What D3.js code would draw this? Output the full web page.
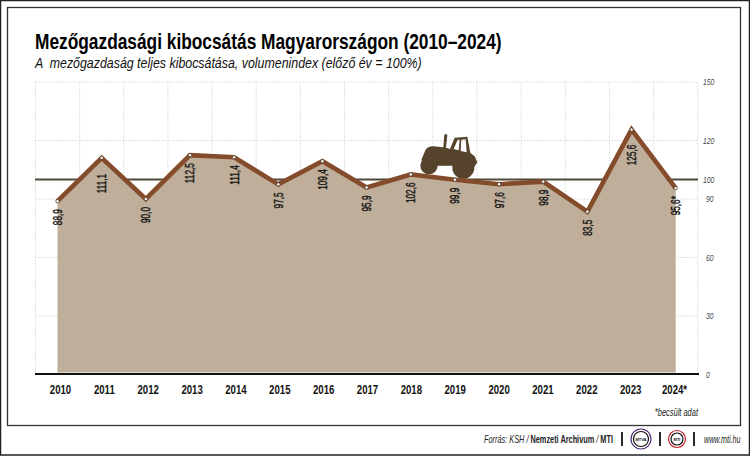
<!DOCTYPE html>
<html><head><meta charset="utf-8">
<script src="https://cdn.jsdelivr.net/npm/d3@7"></script>
<style>
html,body{margin:0;padding:0;background:#fff}
svg{display:block}
text{font-family:"Liberation Sans",Arial,sans-serif;white-space:pre}
</style></head><body><svg id="c" width="750" height="456"></svg>
<script>
const years=[2010,2011,2012,2013,2014,2015,2016,2017,2018,2019,2020,2021,2022,2023,2024];
const values=[88.9,111.1,90.0,112.5,111.4,97.5,109.4,95.9,102.6,99.9,97.6,98.9,83.5,125.6,95.6];
const valueLabels=["88,9","111,1","90,0","112,5","111,4","97,5","109,4","95,9","102,6","99,9","97,6","98,9","83,5","125,6","95,6*"];
const yearLabels=["2010","2011","2012","2013","2014","2015","2016","2017","2018","2019","2020","2021","2022","2023","2024*"];
const yTicks=[0,30,60,90,100,120,150];
const gridValues=[30,60,90,120,150];
const referenceValue=100;
const labelGapLarge={2011:16,2023:15};

const svg=d3.select("#c");
const x=d3.scalePoint().domain(years).range([57.5,675.7]);
const xLab=d3.scalePoint().domain(years).range([60,674]);
const y=d3.scaleLinear().domain([0,150]).range([374.5,82]);
const step=x.step();
const L=35,R=698;

// frame
svg.append("rect").attr("x",.5).attr("y",.5).attr("width",749).attr("height",454.5).attr("fill","#fff").attr("stroke","#222").attr("stroke-width",1.5);
svg.append("rect").attr("x",7.5).attr("y",7.5).attr("width",733).attr("height",418).attr("fill","#fff").attr("stroke","#333").attr("stroke-width",1.3);

// condensed text helper
function cond(sel,px,py,sx,rot){return sel.attr("transform",`translate(${px},${py})${rot?` rotate(${rot})`:""} scale(${sx},1)`);}

// title
cond(svg.append("text"),35,49,.77).attr("font-size",22.5).attr("font-weight","bold").attr("fill","#000").text("Mezőgazdasági kibocsátás Magyarországon (2010–2024)");
cond(svg.append("text"),35,67.5,.80).attr("font-size",15.5).attr("font-style","italic").attr("fill","#111").text("A  mezőgazdaság teljes kibocsátása, volumenindex (előző év = 100%)");

// grid
const grid=svg.append("g").attr("stroke","#e2e1dc").attr("stroke-width",1).attr("stroke-dasharray","2 1");
grid.selectAll("line.h").data(gridValues).join("line").attr("class","h").attr("x1",L).attr("x2",R).attr("y1",d=>y(d)).attr("y2",d=>y(d));
grid.selectAll("line.v").data(d3.range(years.length+1)).join("line").attr("class","v")
  .attr("x1",i=>x(years[0])-step/2+i*step).attr("x2",i=>x(years[0])-step/2+i*step).attr("y1",y(150)).attr("y2",y(0));

// y axis
const ax=svg.append("g").attr("transform",`translate(${R+5},0)`).call(d3.axisRight(y).tickValues(yTicks).tickSize(0).tickPadding(0).tickFormat(d3.format("d")));
ax.select(".domain").remove();
ax.selectAll("text").attr("font-size",8.5).attr("font-style","italic").attr("fill","#444").attr("x",0)
  .attr("transform",d=>`translate(${d==0?3:(d<100?3:0)},0) scale(.8,1)`);

// 100 line
svg.append("line").attr("x1",L).attr("x2",R).attr("y1",y(referenceValue)).attr("y2",y(referenceValue)).attr("stroke","#4f4838").attr("stroke-width",2);

// area
const pts=years.map((d,i)=>({year:d,v:values[i],label:valueLabels[i]}));
svg.append("path").datum(pts).attr("fill","#bfae9a")
  .attr("d",d3.area().x(d=>x(d.year)).y0(y(1)).y1(d=>y(d.v)));

// tractor
const t=svg.append("g").attr("transform","translate(410,125) scale(0.3333)").attr("fill","#55432c");
t.append("path").attr("d","M34 105 L46 76 Q52 64 70 64 L100 67 L103 30 L108 26 L112 30 L108 68 L120 72 L134 38 L172 35 L181 84 L194 94 L202 112 L190 130 L130 122 L85 122 L50 128 Z M143 44 L131 72 L146 76 L149 44 Z M154 44 L152 78 L170 82 L167 43 Z").attr("fill-rule","evenodd");
t.append("circle").attr("cx",57).attr("cy",122).attr("r",26);
t.append("circle").attr("cx",160).attr("cy",128).attr("r",33);

// baseline
svg.append("line").attr("x1",L).attr("x2",R+1).attr("y1",374).attr("y2",374).attr("stroke","#111").attr("stroke-width",2);

// line
svg.append("path").datum(pts).attr("fill","none").attr("stroke","#854c2b").attr("stroke-width",4.6).attr("stroke-linejoin","miter")
  .attr("d",d3.line().x(d=>x(d.year)).y(d=>y(d.v)));
svg.selectAll("circle.pt").data(pts).join("circle").attr("class","pt").attr("cx",d=>x(d.year)).attr("cy",d=>y(d.v)).attr("r",1.7).attr("fill","#fff").attr("stroke","#4a3a2a").attr("stroke-width",.8);

// value labels
svg.selectAll("text.val").data(pts).join("text").attr("class","val").attr("text-anchor","end").attr("font-size",12.5).attr("fill","#111")
  .attr("stroke","#111").attr("stroke-width",.4)
  .attr("transform",d=>`translate(${x(d.year)+4.5},${y(d.v)+(labelGapLarge[d.year]||8)}) rotate(-90) scale(.66,1)`).text(d=>d.label);

// year labels
const bx=svg.append("g").attr("transform","translate(0,393.5)").call(d3.axisBottom(xLab).tickSize(0).tickPadding(0).tickFormat((d,i)=>yearLabels[i]));
bx.select(".domain").remove();
bx.selectAll("text").attr("dy",0).attr("y",0).attr("font-size",13).attr("font-weight","bold").attr("fill","#111").attr("transform","scale(.74,1)");

cond(svg.append("text"),698,416,.68).attr("text-anchor","end").attr("font-size",11).attr("font-style","italic").attr("fill","#222").text("*becsült adat");

// footer
const f=cond(svg.append("text"),613,443,.70).attr("text-anchor","end").attr("font-size",10.5).attr("fill","#222");
f.append("tspan").attr("font-style","italic").text("Forrás: KSH / ");
f.append("tspan").attr("font-weight","bold").text("Nemzeti Archivum");
f.append("tspan").attr("font-style","italic").text(" / ");
f.append("tspan").attr("font-weight","bold").text("MTI");
cond(svg.append("text"),704,443,.68).attr("font-size",10.5).attr("font-style","italic").attr("fill","#222").text("www.mti.hu");
svg.selectAll("line.sep").data([622,660,694]).join("line").attr("class","sep").attr("x1",d=>d).attr("x2",d=>d).attr("y1",432).attr("y2",446).attr("stroke","#111").attr("stroke-width",1.8);
const logos=[{cx:641,r:10,c:"#4b2a73",t:"MTVA"},{cx:677,r:8.5,c:"#c8202a",t:"MTI"}];
logos.forEach(l=>{
  svg.append("circle").attr("cx",l.cx).attr("cy",439).attr("r",l.r).attr("fill","#fff").attr("stroke",l.c).attr("stroke-width",1.2);
  svg.append("circle").attr("cx",l.cx).attr("cy",439).attr("r",l.r-2.5).attr("fill","#fff").attr("stroke","#111").attr("stroke-width",1.2);
  svg.append("text").attr("x",l.cx).attr("y",440.5).attr("text-anchor","middle").attr("font-size",4).attr("font-weight","bold").attr("fill","#111").text(l.t);
});
</script></body></html>
